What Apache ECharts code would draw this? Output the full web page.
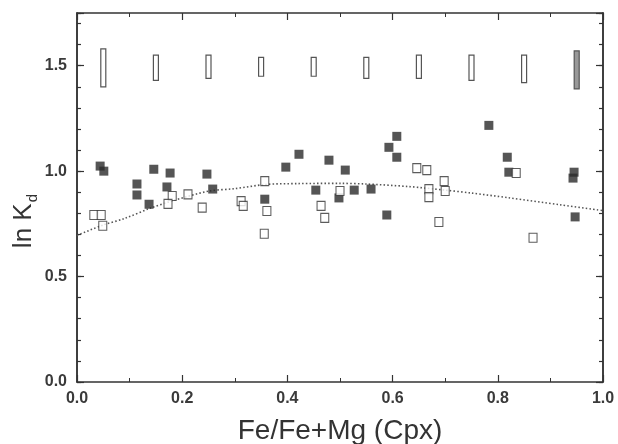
<!DOCTYPE html>
<html>
<head>
<meta charset="utf-8">
<script src="https://cdn.jsdelivr.net/npm/echarts@6/dist/echarts.min.js"></script>
<style>
html,body{margin:0;padding:0;background:#fff;}
#c{width:618px;height:444px;}
</style>
</head>
<body>
<div id="c"></div>
<script>
// Filled squares [Fe/Fe+Mg, ln Kd]
var filledPts = [
  [0.044,1.024],[0.051,1.00],[0.114,0.939],[0.114,0.887],[0.146,1.009],[0.177,0.991],
  [0.171,0.925],[0.137,0.843],[0.247,0.986],[0.258,0.915],[0.422,1.08],[0.397,1.019],
  [0.479,1.052],[0.357,0.867],[0.454,0.91],[0.498,0.873],[0.51,1.005],[0.527,0.91],
  [0.559,0.915],[0.608,1.165],[0.593,1.113],[0.608,1.066],[0.589,0.792],[0.783,1.217],
  [0.818,1.066],[0.821,0.995],[0.945,0.995],[0.943,0.967],[0.947,0.783]
];
// Open squares
var openPts = [
  [0.032,0.792],[0.046,0.792],[0.049,0.741],[0.181,0.882],[0.173,0.845],[0.211,0.89],
  [0.238,0.827],[0.357,0.953],[0.312,0.858],[0.316,0.835],[0.361,0.811],[0.356,0.703],
  [0.464,0.835],[0.471,0.778],[0.50,0.906],[0.646,1.014],[0.665,1.005],[0.669,0.915],
  [0.669,0.877],[0.698,0.953],[0.70,0.906],[0.688,0.759],[0.835,0.991],[0.867,0.684]
];
// Dotted model curve
var curveX = [0, 0.05, 0.09, 0.14, 0.18, 0.25, 0.30, 0.36, 0.42, 0.50, 0.55, 0.63, 0.70, 0.75, 0.82, 0.92, 1.0];
var curveY = [0.695, 0.745, 0.775, 0.825, 0.858, 0.905, 0.917, 0.937, 0.941, 0.942, 0.939, 0.927, 0.91, 0.896, 0.874, 0.84, 0.813];
// Error bars: x, low, high
var errX    = [0.05, 0.15, 0.25, 0.35, 0.45, 0.55, 0.65, 0.75, 0.85, 0.95];
var errLow  = [1.40, 1.43, 1.44, 1.45, 1.45, 1.44, 1.44, 1.43, 1.42, 1.39];
var errHigh = [1.58, 1.55, 1.55, 1.54, 1.54, 1.54, 1.55, 1.55, 1.55, 1.57];
var errFill = ['#fff','#fff','#fff','#fff','#fff','#fff','#fff','#fff','#fff','#999'];
// Tick labels
var xTicks = ['0.0','0.2','0.4','0.6','0.8','1.0'];
var yTicks = ['0.0','0.5','1.0','1.5'];

var curveData = curveX.map(function(x,i){return [x, curveY[i]];});
var errData = errX.map(function(x,i){return [x, errLow[i], errHigh[i], i];});

var axisColor = '#333';
var labelStyle = {fontFamily:'Liberation Sans', fontSize:16, fontWeight:'bold', color:'#3a3a3a'};

function baseX(pos, showLabel){
  return {
    type:'value', position:pos, min:0, max:1, interval:0.2,
    axisLine:{show:true, onZero:false, lineStyle:{color:axisColor, width:1.5}},
    axisTick:{show:true, inside:true, length:7, lineStyle:{color:axisColor, width:1.2}},
    minorTick:{show:true, splitNumber:2, length:4, lineStyle:{color:axisColor, width:1}},
    splitLine:{show:false}, minorSplitLine:{show:false},
    axisLabel: showLabel ? Object.assign({show:true, margin:9,
      formatter:function(v){ var s=v.toFixed(1); return xTicks.indexOf(s)>=0 ? s : ''; }}, labelStyle) : {show:false}
  };
}
function baseY(pos, interval, tickLen, showLabel){
  return {
    type:'value', position:pos, min:0, max:1.75, interval:interval,
    axisLine:{show:true, onZero:false, lineStyle:{color:axisColor, width:1.5}},
    axisTick:{show:true, inside:true, length:tickLen, lineStyle:{color:axisColor, width:1.2}},
    splitLine:{show:false},
    axisLabel: showLabel ? Object.assign({show:true, margin:10,
      formatter:function(v){ var s=v.toFixed(1); return (Math.abs(v*2-Math.round(v*2))<1e-6 && yTicks.indexOf(s)>=0) ? s : ''; }}, labelStyle) : {show:false}
  };
}

var xMain = baseX('bottom', true);
xMain.name = 'Fe/Fe+Mg (Cpx)';
xMain.nameLocation = 'middle';
xMain.nameGap = 35;
xMain.nameTextStyle = {fontFamily:'Liberation Sans', fontSize:28, color:'#333'};

var chart = echarts.init(document.getElementById('c'), null, {renderer:'canvas'});
chart.setOption({
  backgroundColor:'#fff',
  animation:false,
  grid:{left:77, right:15, top:13, bottom:62, containLabel:false, outerBoundsMode:'none'},
  xAxis:[xMain, baseX('top', false)],
  yAxis:[
    baseY('left', 0.5, 7, true),
    baseY('left', 0.1, 4, false),
    baseY('right', 0.5, 7, false),
    baseY('right', 0.1, 4, false)
  ],
  graphic:[{
    type:'text', left:11, top:194, rotation:Math.PI/2,
    style:{
      text:'{m|ln K}{s|d}',
      rich:{
        m:{fontFamily:'Liberation Sans', fontSize:26, fill:'#333', verticalAlign:'bottom'},
        s:{fontFamily:'Liberation Sans', fontSize:15, fill:'#333', verticalAlign:'bottom', padding:[0,0,-3,1]}
      }
    }
  }],
  series:[
    {
      type:'line', data:curveData, smooth:0.3, symbol:'none', silent:true,
      lineStyle:{color:'#555', width:1.6, type:[1.5,2.2]}, z:1
    },
    {
      type:'custom', data:errData, silent:true, z:2,
      renderItem:function(params, api){
        var top = api.coord([api.value(0), api.value(2)]);
        var bot = api.coord([api.value(0), api.value(1)]);
        var idx = api.value(3);
        var w = 5;
        return {
          type:'rect',
          shape:{x:top[0]-w/2, y:top[1], width:w, height:bot[1]-top[1]},
          style:{fill:errFill[idx], stroke:'#555', lineWidth:1.2}
        };
      }
    },
    {
      type:'scatter', data:filledPts, symbol:'rect', symbolSize:9, z:3,
      itemStyle:{color:'#2b2b2b'}
    },
    {
      type:'scatter', data:openPts, symbol:'rect', symbolSize:[8,9], z:4,
      itemStyle:{color:'#fff', borderColor:'#333', borderWidth:1.1}
    }
  ]
});
</script>
</body>
</html>
